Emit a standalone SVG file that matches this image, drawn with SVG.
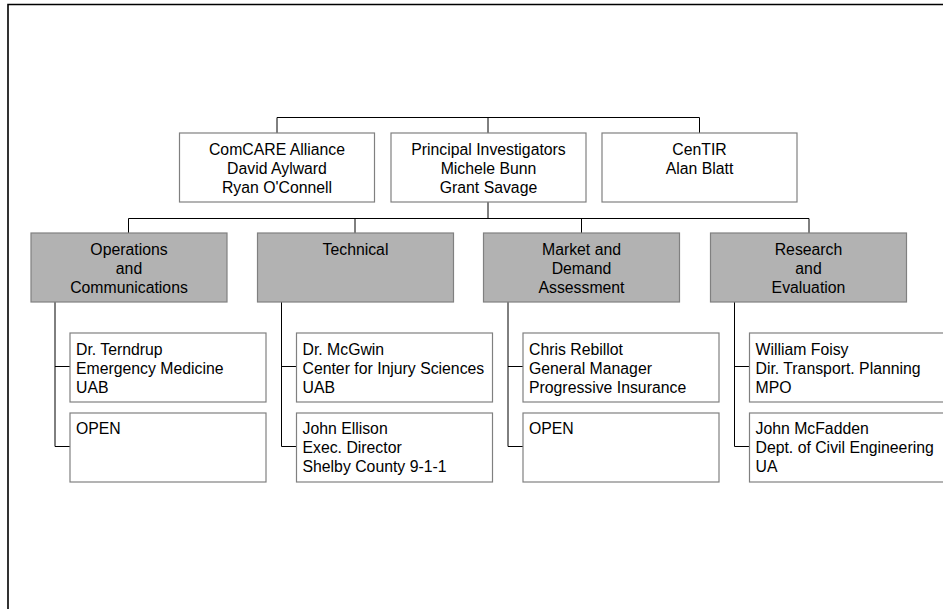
<svg xmlns="http://www.w3.org/2000/svg" width="943" height="609" viewBox="0 0 943 609">
<style>
.box{fill:#ffffff;stroke:#808080;stroke-width:1.2}
.grp{fill:#b2b2b2;stroke:#808080;stroke-width:1.2}
.c{fill:none;stroke:#000000;stroke-width:1}
text{font-family:"Liberation Sans",Arial,sans-serif;font-size:15.8px;fill:#000000}
.m{text-anchor:middle}
</style>
<rect width="943" height="609" fill="#ffffff"/>
<path d="M8,615 V4.5 H950" fill="none" stroke="#000000" stroke-width="1.6"/>
<g id="connectors">
<path class="c" d="M277,133 V117.5 H699.5 V133 M488,117.5 V133"/>
<path class="c" d="M488,202 V218.5 M128.5,233 V218.5 H809 V233 M355,218.5 V233 M581.5,218.5 V233"/>
<path class="c" d="M55,302 V446.5 H70 M55,366.5 H70"/>
<path class="c" d="M281.5,302 V446.5 H296.5 M281.5,366.5 H296.5"/>
<path class="c" d="M508,302 V446.5 H523 M508,366.5 H523"/>
<path class="c" d="M734.5,302 V446.5 H749.5 M734.5,366.5 H749.5"/>
</g>
<g id="comcare">
<rect class="box" x="179.5" y="133" width="195" height="69"/>
<text class="m" x="277" y="155">ComCARE Alliance</text>
<text class="m" x="277" y="174">David Aylward</text>
<text class="m" x="277" y="193">Ryan O'Connell</text>
</g>
<g id="pi">
<rect class="box" x="391" y="133" width="195" height="69"/>
<text class="m" x="488.5" y="155">Principal Investigators</text>
<text class="m" x="488.5" y="174">Michele Bunn</text>
<text class="m" x="488.5" y="193">Grant Savage</text>
</g>
<g id="centir">
<rect class="box" x="602" y="133" width="195" height="69"/>
<text class="m" x="699.5" y="155">CenTIR</text>
<text class="m" x="699.5" y="174">Alan Blatt</text>
</g>
<g id="operations">
<rect class="grp" x="31" y="233" width="196" height="69"/>
<text class="m" x="129" y="254.5">Operations</text>
<text class="m" x="129" y="273.5">and</text>
<text class="m" x="129" y="292.5">Communications</text>
</g>
<g id="technical">
<rect class="grp" x="257.5" y="233" width="196" height="69"/>
<text class="m" x="355.5" y="254.5">Technical</text>
</g>
<g id="market">
<rect class="grp" x="483.5" y="233" width="196" height="69"/>
<text class="m" x="581.5" y="254.5">Market and</text>
<text class="m" x="581.5" y="273.5">Demand</text>
<text class="m" x="581.5" y="292.5">Assessment</text>
</g>
<g id="research">
<rect class="grp" x="710.5" y="233" width="196" height="69"/>
<text class="m" x="808.5" y="254.5">Research</text>
<text class="m" x="808.5" y="273.5">and</text>
<text class="m" x="808.5" y="292.5">Evaluation</text>
</g>
<g id="terndrup">
<rect class="box" x="70" y="333" width="196" height="69"/>
<text x="76" y="354.5">Dr. Terndrup</text>
<text x="76" y="373.5">Emergency Medicine</text>
<text x="76" y="392.5">UAB</text>
</g>
<g id="open1">
<rect class="box" x="70" y="413" width="196" height="69"/>
<text x="76" y="434">OPEN</text>
</g>
<g id="mcgwin">
<rect class="box" x="296.5" y="333" width="196" height="69"/>
<text x="302.5" y="354.5">Dr. McGwin</text>
<text x="302.5" y="373.5">Center for Injury Sciences</text>
<text x="302.5" y="392.5">UAB</text>
</g>
<g id="ellison">
<rect class="box" x="296.5" y="413" width="196" height="69"/>
<text x="302.5" y="434">John Ellison</text>
<text x="302.5" y="453">Exec. Director</text>
<text x="302.5" y="472">Shelby County 9-1-1</text>
</g>
<g id="rebillot">
<rect class="box" x="523" y="333" width="196" height="69"/>
<text x="529" y="354.5">Chris Rebillot</text>
<text x="529" y="373.5">General Manager</text>
<text x="529" y="392.5">Progressive Insurance</text>
</g>
<g id="open2">
<rect class="box" x="523" y="413" width="196" height="69"/>
<text x="529" y="434">OPEN</text>
</g>
<g id="foisy">
<rect class="box" x="749.5" y="333" width="196" height="69"/>
<text x="755.5" y="354.5">William Foisy</text>
<text x="755.5" y="373.5">Dir. Transport. Planning</text>
<text x="755.5" y="392.5">MPO</text>
</g>
<g id="mcfadden">
<rect class="box" x="749.5" y="413" width="196" height="69"/>
<text x="755.5" y="434">John McFadden</text>
<text x="755.5" y="453">Dept. of Civil Engineering</text>
<text x="755.5" y="472">UA</text>
</g>
</svg>
